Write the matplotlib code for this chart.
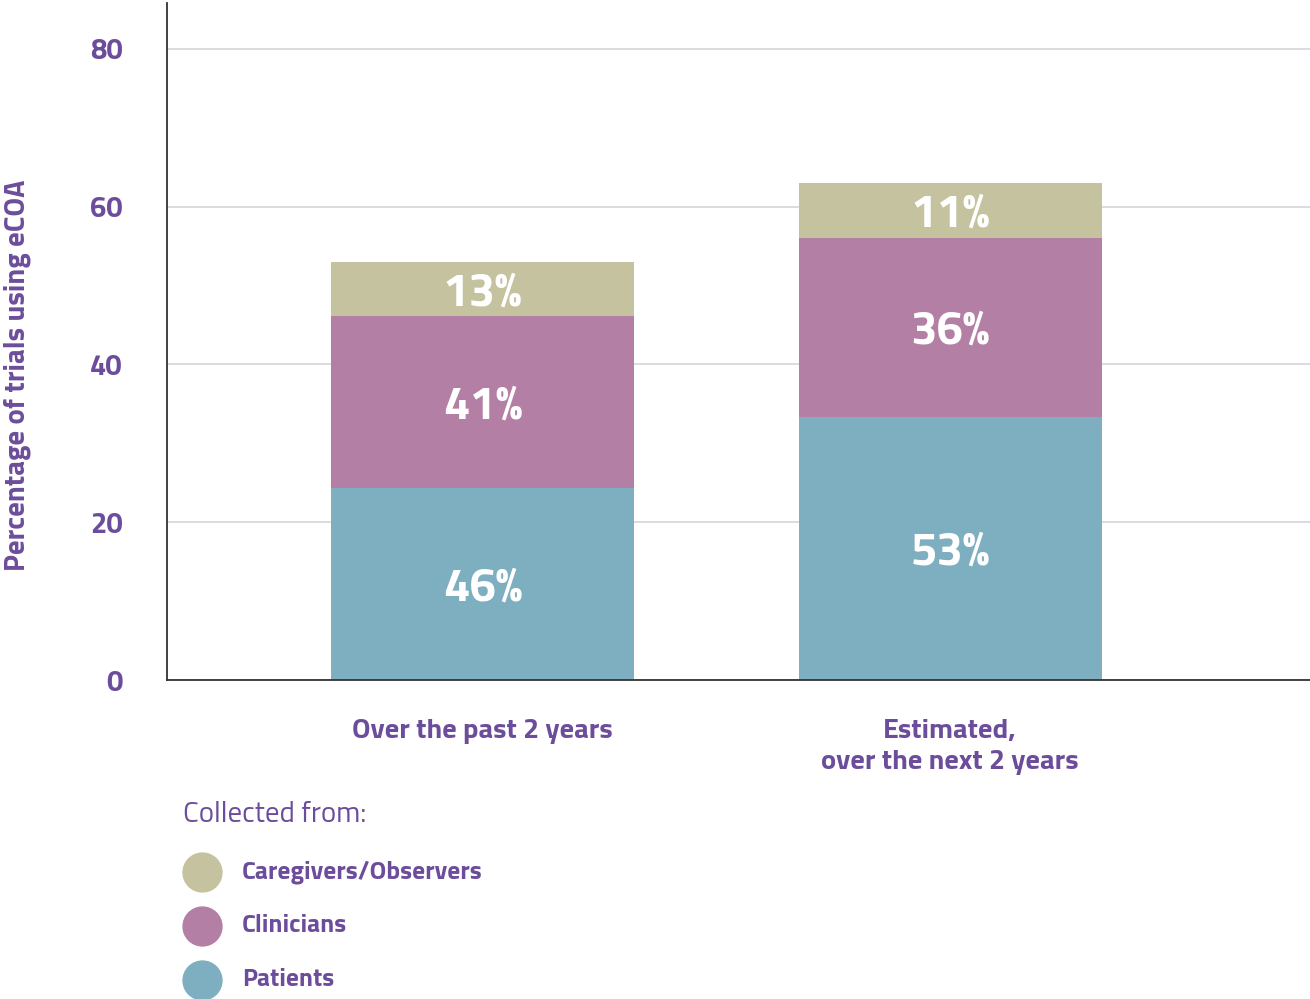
import numpy as np
import matplotlib.pyplot as plt
from matplotlib.lines import Line2D

plt.rcParams['font.family'] = ['Titillium Web', 'Roboto Condensed', 'Roboto', 'DejaVu Sans']

# periods on the x axis and share of trials using eCOA
periods = ["Over the past 2 years", "Estimated,\nover the next 2 years"]
totals = [53, 63]

# who the data were collected from, bottom to top of each bar
sources = ["Patients", "Clinicians", "Caregivers/Observers"]
patients = [46, 53]
clinicians = [41, 36]
caregivers = [13, 11]
colors = ["#7eafc0", "#b47fa5", "#c5c29f"]

purple = "#6c4d9b"

fig = plt.figure(figsize=(13.1, 9.99), dpi=100)
ax = fig.add_axes([0.1275, 0.3193, 0.8725, 0.6777])

x = np.arange(len(periods))
bottom = np.zeros(len(periods))
for name, shares, col in zip(sources, [patients, clinicians, caregivers], colors):
    heights = np.array(totals) * np.array(shares) / 100
    ax.bar(x, heights, 0.648, bottom=bottom, color=col, zorder=2)
    for xi, b, h, s in zip(x, bottom, heights, shares):
        ax.text(xi, b + h / 2, f"{s}%", ha="center", va="center_baseline",
                color="white", fontsize=34, fontweight="bold", zorder=3)
    bottom += heights

ax.set_xlim(-0.675, 1.77)
ax.set_ylim(0, 85.8)
ax.set_yticks([0, 20, 40, 60, 80])
ax.grid(axis="y", color="#d4d6da", linewidth=1.2, zorder=0)
ax.tick_params(axis="y", length=0, pad=32, labelsize=21, labelcolor=purple)
ax.tick_params(axis="x", length=0, pad=28, labelsize=20.5, labelcolor=purple)
for lab in ax.get_yticklabels():
    lab.set_fontweight("bold")
ax.set_xticks(x, periods, fontweight="bold", linespacing=1.3)

for side in ["top", "right"]:
    ax.spines[side].set_visible(False)
for side in ["left", "bottom"]:
    ax.spines[side].set_color("#333333")
    ax.spines[side].set_linewidth(1.3)

ax.set_ylabel("Percentage of trials using eCOA", color=purple, fontsize=20.7,
              fontweight="bold")
ax.yaxis.set_label_coords(-0.119, 0.45)

# legend built by hand below the plot
fig.text(183 / 1310, 1 - 815 / 999, "Collected from:", color=purple,
         fontsize=20.8, va="center", ha="left")
for i, (name, col) in enumerate(zip(sources[::-1], colors[::-1])):
    yy = 1 - (872 + 54 * i) / 999
    fig.add_artist(Line2D([202 / 1310], [yy], marker="o", markersize=28,
                          color=col, linestyle="none",
                          transform=fig.transFigure))
    fig.text(242 / 1310, yy, name, color=purple, fontsize=18.3,
             fontweight="bold", va="center", ha="left")

fig.savefig("out.png", dpi=100)
